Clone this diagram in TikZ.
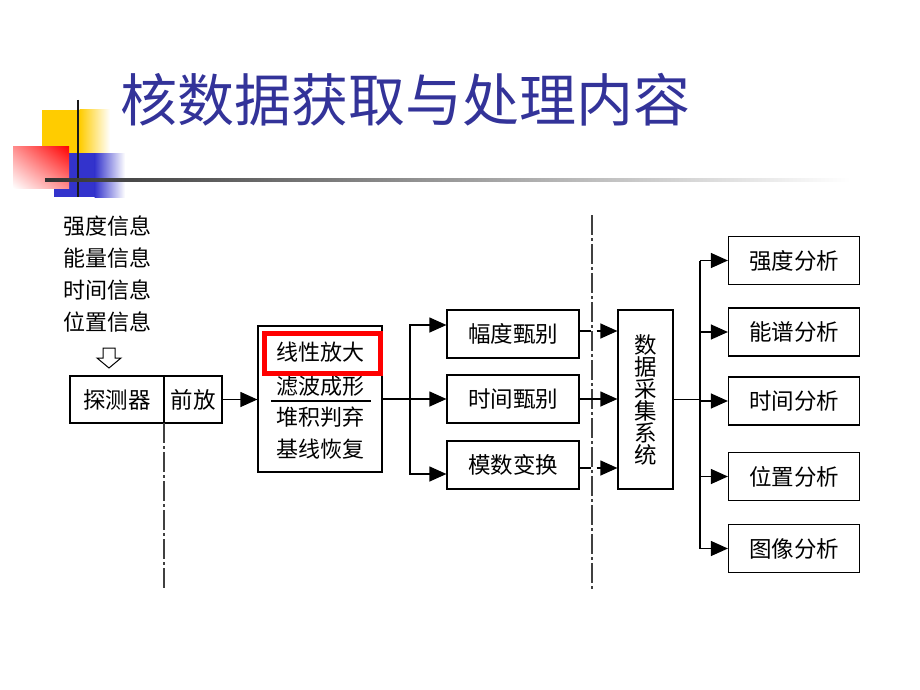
\documentclass[tikz,border=0pt]{standalone}
\usepackage{fontspec}
\newfontfamily\cjk{Noto Sans CJK SC}
\usetikzlibrary{
  arrows.meta,
  calc,
  positioning,
  shadings,
}
\definecolor{titleblue}{RGB}{51, 51, 153}
\definecolor{decoyellow}{RGB}{255, 204, 0}
\definecolor{decoblue}{RGB}{51, 51, 204}
\tikzstyle{flow} = [
  -{Triangle[length=17pt,width=15pt]},
  line width=1.2pt,
]
\tikzstyle{box} = [
  draw,
  line width=1.2pt,
  inner sep=0pt,
  font=\cjk\fontsize{22.5}{22}\selectfont,
]
\tikzstyle{label} = [
  inner sep=0pt,
  font=\cjk\fontsize{22}{22}\selectfont,
]
\tikzstyle{dashdot} = [
  line width=1.5pt,
  black!75,
  dash pattern=on 20pt off 3pt on 3pt off 3pt,
]

\begin{document}
\begin{tikzpicture}[x=1pt, y=-1pt]
  \useasboundingbox (0, 0) rectangle (920, 690);

  % title and corner decoration
  \fill[decoyellow] (42, 110) rectangle (80, 153);
  \shade[left color=decoyellow, right color=white] (79.5, 110) rectangle (110, 153);
  \fill[decoblue] (54, 153) rectangle (95, 197);
  \shade[left color=decoblue, right color=white] (94.5, 153) rectangle (125, 197);
  \shade[upper right=red, upper left=red!45, lower right=red!45, lower left=white]
    (13, 146) rectangle (69, 188);
  \draw[line width=2.7pt, black!90] (78, 100) -- (78, 197);
  \shade[left color=black!80, right color=white] (45, 178.8) rectangle (850, 181.4);
  \node[font=\cjk\fontsize{57}{60}\selectfont, text=titleblue] (title) at (405, 100)
    {核数据获取与处理内容};

  % input information
  \foreach \name/\y/\txt in {i1/226/强度信息, i2/258/能量信息, i3/290/时间信息, i4/322/位置信息}
    \node[label, anchor=west] (\name) at (63, \y) {\txt};
  \draw[line width=1pt] (103, 348) -- (115, 348) -- (115, 358) -- (121, 358)
    -- (109, 368) -- (97, 358) -- (103, 358) -- cycle;

  % detector and preamplifier
  \node[box, minimum width=94pt, minimum height=47pt] (det) at (117, 399.5) {探测器};
  \node[box, minimum width=58pt, minimum height=47pt] (pre) at (193, 399.5) {前放};

  % shaping stage
  \node[box, minimum width=124pt, minimum height=146pt] (shaper) at (320, 399) {};
  \node[label] (s1) at (320, 352) {线性放大};
  \node[label] (s2) at (320, 386) {滤波成形};
  \node[label] (s3) at (320, 417) {堆积判弃};
  \node[label] (s4) at (320, 449) {基线恢复};
  \draw[line width=1.2pt] (271, 401) -- (371, 401);
  \node[draw=red, line width=5pt, minimum width=116pt, minimum height=40pt] (hl)
    at (322.5, 353.5) {};

  % discrimination and conversion
  \node[box, minimum width=132pt, minimum height=48pt] (amp) at (513, 334) {幅度甄别};
  \node[box, minimum width=132pt, minimum height=48pt] (tim) at (513, 399) {时间甄别};
  \node[box, minimum width=132pt, minimum height=48pt] (adc) at (513, 465) {模数变换};

  % data acquisition
  \node[box, minimum width=55pt, minimum height=179pt, align=center] (daq) at (645.5, 399.5)
    {数\\据\\采\\集\\系\\统};

  % analysis
  \foreach \name/\y/\txt in {a1/260.5/强度分析, a2/332/能谱分析, a3/401/时间分析,
      a4/476.5/位置分析, a5/548.5/图像分析}
    \node[box, minimum width=131pt, minimum height=48pt] (\name) at (794, \y) {\txt};

  % boundaries
  \draw[dashdot] (164, 423) -- (164, 590);
  \draw[dashdot] (592, 215) -- (592, 590);

  % connectors
  \draw[flow] (pre.east) -- (shaper.west |- pre.east);
  \coordinate (j1) at (410, 399);
  \draw[line width=1.2pt] (shaper.east |- j1) -- (j1);
  \draw[flow] (j1) |- ([yshift=9pt]amp.west);
  \draw[flow] (j1) -- (tim.west);
  \draw[flow] (j1) |- ([yshift=-9pt]adc.west);

  \draw[flow, dash pattern=on 11pt off 6pt on 40pt] ([yshift=3pt]amp.east)
    -- ([yshift=3pt]amp.east -| daq.west);
  \draw[flow] (tim.east) -- (tim.east -| daq.west);
  \draw[flow, dash pattern=on 11pt off 6pt on 40pt] ([yshift=-3pt]adc.east)
    -- ([yshift=-3pt]adc.east -| daq.west);

  \coordinate (j2) at (700, 399.5);
  \draw[line width=1.2pt] (daq.east) -- (j2);
  \draw[line width=1.2pt] (j2 |- a1.west) -- (j2 |- a5.west);
  \foreach \name in {a1, a2, a3, a4, a5}
    \draw[flow] (j2 |- \name.west) -- (\name.west);
\end{tikzpicture}
\end{document}
